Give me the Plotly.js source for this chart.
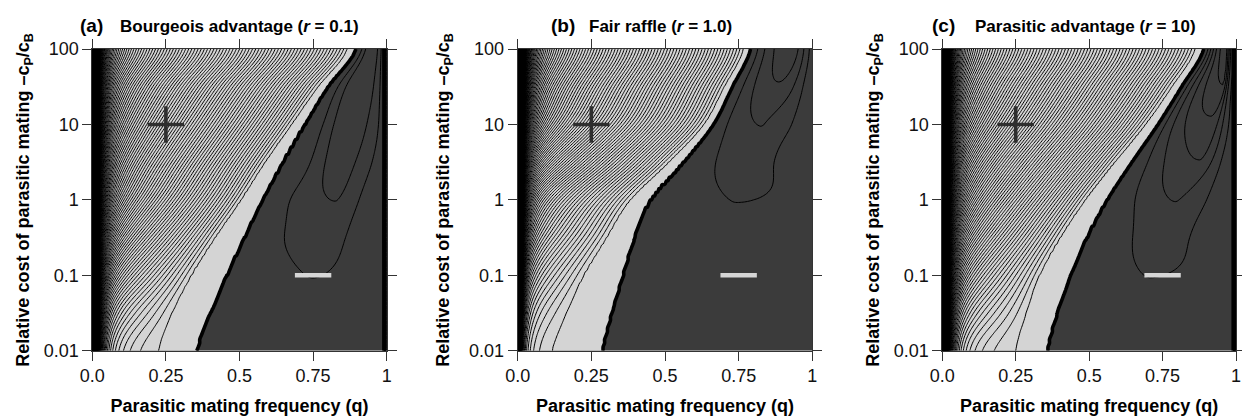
<!DOCTYPE html>
<html><head><meta charset="utf-8">
<script src="https://cdn.plot.ly/plotly-3.0.1.min.js"></script>
<style>html,body{margin:0;padding:0;background:#fff;} #chart{width:1242px;height:416px;}</style>
</head><body><div id="chart"></div>
<script>
// ---------------- values ----------------
const rowCost = [0.01, 0.0316, 0.1, 0.316, 1, 3.16, 10, 31.6, 100];

// (a) Bourgeois advantage, r = 0.1
const boundaryA = [0.355, 0.40, 0.455, 0.515, 0.578, 0.645, 0.72, 0.80, 0.895];
const gapEdgeA  = [0.225, 0.27, 0.335, 0.415, 0.503, 0.585, 0.675, 0.765, 0.865];
const densityA  = [0, 25, 55, 75, 85, 88, 89, 89, 89];
const nearZeroA = [0.6, 0.6, 0.6, 0.6, 0.6, 0.6, 0.6, 0.6, 0.6];
const troughQA  = [0.65, 0.72, 0.75, 0.745, 0.83, 0.85, 0.875, 0.91, 0.95];
const troughZA  = [-0.7, -0.88, -1.02, -1.5, -2.02, -2.65, -2.85, -2.92, -2.95];
const edgeZA    = [-0.6, -0.6, -0.6, -0.4, -0.42, -0.73, -0.83, -0.73, -0.65];
const shapeLA   = [1, 1, 1, 0.95, 0.71, 1.15, 1.03, 0.8, 0.95];
const shapeRA   = [1, 1, 1, 1, 0.7, 0.8, 1.15, 1.4, 1.1];

// (b) Fair raffle, r = 1.0
const boundaryB = [0.288, 0.318, 0.356, 0.395, 0.449, 0.56, 0.664, 0.728, 0.79];
const gapEdgeB  = [0.117, 0.165, 0.223, 0.30, 0.38, 0.51, 0.63, 0.70, 0.765];
const densityB  = [0, 15, 40, 58, 70, 80, 86, 89, 92];
const nearZeroB = [0.2, 0.25, 0.3, 0.35, 0.4, 0.45, 0.5, 0.55, 0.6];
const troughQB  = [0.6, 0.65, 0.7, 0.72, 0.745, 0.77, 0.834, 0.88, 0.915];
const troughZB  = [-0.7, -0.75, -0.82, -0.92, -1.02, -1.6, -2.03, -2.9, -3.55];
const edgeZB    = [-0.65, -0.7, -0.75, -0.8, -0.85, -0.69, -0.8, -0.48, -0.78];
const shapeLB   = [1, 1, 1, 1, 1, 0.86, 0.55, 0.65, 0.65];
const shapeRB   = [1, 1, 1, 1, 1, 0.6, 0.535, 1.15, 1.5];

// (c) Parasitic advantage, r = 10
const boundaryC = [0.358, 0.39, 0.435, 0.49, 0.56, 0.645, 0.735, 0.815, 0.89];
const gapEdgeC  = [0.25, 0.285, 0.33, 0.40, 0.485, 0.585, 0.69, 0.78, 0.86];
const densityC  = [0, 25, 55, 75, 85, 88, 89, 89, 89];
const nearZeroC = [0.6, 0.6, 0.6, 0.6, 0.6, 0.6, 0.6, 0.6, 0.6];
const troughQC  = [0.62, 0.68, 0.71, 0.75, 0.80, 0.875, 0.905, 0.955, 0.965];
const troughZC  = [-0.75, -0.9, -1.02, -1.6, -2.03, -2.95, -3.75, -4.95, -5.6];
const edgeZC    = [-0.6, -0.65, -0.7, -0.44, -0.56, -0.38, -0.7, -0.8, -1.2];
const shapeLC   = [1, 1, 1, 1.08, 0.77, 0.65, 0.55, 0.6, 0.8];
const shapeRC   = [1, 1, 1, 0.7, 0.7, 0.85, 1.1, 0.7, 0.8];

const rightEdgeDense = [true, false, true];

const panelLetters = ['(a)', '(b)', '(c)'];
const panelTitles = ['Bourgeois advantage (<i>r</i> = 0.1)', 'Fair raffle (<i>r</i> = 1.0)', 'Parasitic advantage (<i>r</i> = 10)'];
const xTickVals = [0, 0.25, 0.5, 0.75, 1];
const xTickText = ['0.0', '0.25', '0.5', '0.75', '1'];
const yTickVals = [0.01, 0.1, 1, 10, 100];
const yTickText = ['0.01', '0.1', '1', '10', '100'];
const signQ = [0.25, 0.75];
const signCost = [10, 0.1];
const xTitle = 'Parasitic mating frequency (q)';
const yTitle = 'Relative cost of parasitic mating \u2013c<sub>P</sub>/c<sub>B</sub>';

// ---------------- building the contour tables ----------------
const panels = [
  {boundary: boundaryA, gapEdge: gapEdgeA, density: densityA, nearZero: nearZeroA, troughQ: troughQA, troughZ: troughZA, edgeZ: edgeZA, shapeL: shapeLA, shapeR: shapeRA},
  {boundary: boundaryB, gapEdge: gapEdgeB, density: densityB, nearZero: nearZeroB, troughQ: troughQB, troughZ: troughZB, edgeZ: edgeZB, shapeL: shapeLB, shapeR: shapeRB},
  {boundary: boundaryC, gapEdge: gapEdgeC, density: densityC, nearZero: nearZeroC, troughQ: troughQC, troughZ: troughZC, edgeZ: edgeZC, shapeL: shapeLC, shapeR: shapeRC}
];
const CAP = 320, STRIP = 12;
const rowLog = rowCost.map(Math.log10);

const qCols = [];
for (let i = 0; i <= 25; i++) qCols.push(+(i * 0.002).toFixed(4));
for (let i = 1; i <= 190; i++) qCols.push(+(0.05 + i * 0.005).toFixed(4));
const cRows = [];
for (let i = 0; i <= 80; i++) cRows.push(Math.pow(10, -2 + i * 0.05));

function rowValue(arr, lc) {
  const step = rowLog[1] - rowLog[0];
  let u = (lc - rowLog[0]) / step;
  let i = Math.floor(u);
  if (i > arr.length - 2) i = arr.length - 2;
  if (i < 0) i = 0;
  const t = u - i;
  const p0 = arr[Math.max(i - 1, 0)], p1 = arr[i], p2 = arr[i + 1], p3 = arr[Math.min(i + 2, arr.length - 1)];
  return 0.5 * (2 * p1 + (-p0 + p2) * t + (2 * p0 - 5 * p1 + 4 * p2 - p3) * t * t + (-p0 + 3 * p1 - 3 * p2 + p3) * t * t * t);
}
const smooth = u => { u = Math.max(0, Math.min(1, u)); return u * u * (3 - 2 * u); };

function buildTable(p, dense) {
  const qe = dense ? 0.99 : 1.0;
  return cRows.map(c => {
    const lc = Math.log10(c);
    const q0 = rowValue(p.boundary, lc), q1 = rowValue(p.gapEdge, lc);
    const m = Math.max(0, rowValue(p.density, lc)), k = rowValue(p.nearZero, lc);
    const qv = rowValue(p.troughQ, lc), T = rowValue(p.troughZ, lc), E = rowValue(p.edgeZ, lc);
    const gL = rowValue(p.shapeL, lc), gR = rowValue(p.shapeR, lc);
    return qCols.map(q => {
      let v;
      if (q <= q1) v = q === 0 ? CAP : 1 + k * (1 / q - 1 / q1) + m * (q1 - q);
      else if (q <= q0) v = (q0 - q) / (q0 - q1);
      else if (q <= qv) v = T * smooth(Math.pow((q - q0) / (qv - q0), gL));
      else if (q <= qe) v = T + (E - T) * smooth(Math.pow((q - qv) / (qe - qv), gR));
      else v = E + (q - qe) / (1 - qe) * (STRIP - E);
      return Math.min(v, CAP);
    });
  });
}

// ---------------- styling / layout ----------------
const W = 1242, H = 416;
const DARK = '#3b3b3b', LIGHT = '#d4d4d4';
const xPx = [[92.3, 386.7], [517.7, 812.3], [942.3, 1236]];
const yPx = [49, 350.7];
const letterX = [78, 549, 930];
const titleX = [118, 586.7, 973];
const yTitleStandoff = [9, 14, 9];
const FONT = '"Liberation Sans", Arial, Helvetica, sans-serif';

const data = [];
const layout = {
  width: W, height: H, margin: {l: 0, r: 0, t: 0, b: 0},
  paper_bgcolor: '#fff', plot_bgcolor: '#fff', showlegend: false,
  font: {family: FONT, color: '#000', size: 17},
  annotations: []
};

panels.forEach((p, i) => {
  const z = buildTable(p, rightEdgeDense[i]);
  const sfx = i === 0 ? '' : String(i + 1);
  const xa = 'x' + sfx, ya = 'y' + sfx;
  data.push({
    type: 'contour', x: qCols, y: cRows, z: z, xaxis: xa, yaxis: ya,
    autocontour: false, contours: {start: 0, end: 0.5, size: 1, coloring: 'fill', showlines: false},
    colorscale: [[0, DARK], [0.45, DARK], [0.55, LIGHT], [1, LIGHT]],
    showscale: false, hoverinfo: 'skip', line: {width: 0, smoothing: 1}
  });
  data.push({
    type: 'contour', x: qCols, y: cRows, z: z, xaxis: xa, yaxis: ya,
    autocontour: false, contours: {start: -6, end: 299, size: 1, coloring: 'none'},
    showscale: false, hoverinfo: 'skip', line: {color: '#000', width: 1.0, smoothing: 1}
  });
  data.push({
    type: 'contour', x: qCols, y: cRows, z: z, xaxis: xa, yaxis: ya,
    autocontour: false, contours: {start: 0, end: 0.5, size: 1, coloring: 'none'},
    showscale: false, hoverinfo: 'skip', line: {color: '#000', width: 3.6, smoothing: 1}
  });
  data.push({
    type: 'scatter', mode: 'markers', x: [signQ[0]], y: [signCost[0]], xaxis: xa, yaxis: ya,
    marker: {symbol: 'cross-thin', size: 26, line: {width: 3.6, color: '#2e2e2e'}}, hoverinfo: 'skip'
  });
  data.push({
    type: 'scatter', mode: 'markers', x: [signQ[1]], y: [signCost[1]], xaxis: xa, yaxis: ya,
    marker: {symbol: 'line-ew', size: 26, line: {width: 4.5, color: '#d6d6d6'}}, hoverinfo: 'skip'
  });

  const axCommon = {showline: true, linecolor: '#333', linewidth: 1, mirror: 'ticks', ticks: 'outside',
    ticklen: 9, tickwidth: 1, tickcolor: '#333', showgrid: false, zeroline: false,
    tickfont: {size: 18, family: FONT, color: '#111'}};
  layout['xaxis' + sfx] = Object.assign({}, axCommon, {
    domain: [xPx[i][0] / W, xPx[i][1] / W], anchor: ya, range: [0, 1],
    tickmode: 'array', tickvals: xTickVals, ticktext: xTickText,
    title: {text: xTitle, font: {size: 18, family: FONT, weight: 'bold', color: '#000'}, standoff: 15}
  });
  layout['yaxis' + sfx] = Object.assign({}, axCommon, {
    domain: [1 - yPx[1] / H, 1 - yPx[0] / H], anchor: xa, type: 'log', range: [-2, 2],
    tickmode: 'array', tickvals: yTickVals, ticktext: yTickText,
    title: {text: yTitle, font: {size: 18, family: FONT, weight: 'bold', color: '#000'}, standoff: yTitleStandoff[i]}
  });

  layout.annotations.push(
    {xref: 'paper', yref: 'paper', x: letterX[i] / W, y: 1 - 25 / H, xanchor: 'left', yanchor: 'middle',
     text: panelLetters[i], showarrow: false, font: {size: 19, family: FONT, weight: 'bold'}},
    {xref: 'paper', yref: 'paper', x: titleX[i] / W, y: 1 - 26 / H, xanchor: 'left', yanchor: 'middle',
     text: panelTitles[i], showarrow: false, font: {size: 17, family: FONT, weight: 'bold'}}
  );
});

Plotly.newPlot('chart', data, layout, {staticPlot: true, displayModeBar: false});
</script>
</body></html>
